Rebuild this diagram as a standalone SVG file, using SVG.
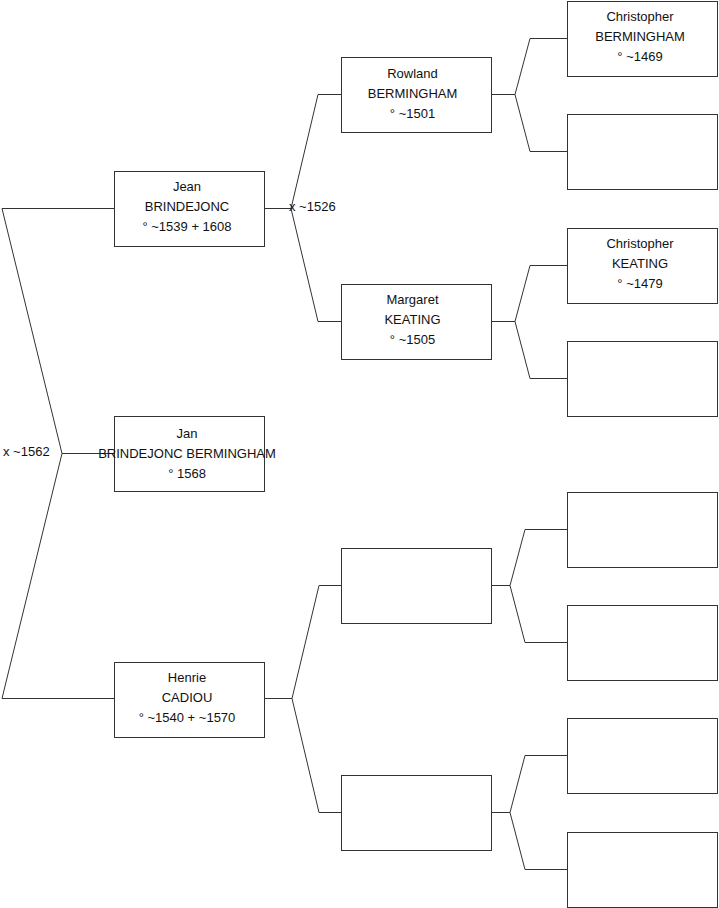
<svg xmlns="http://www.w3.org/2000/svg" width="719" height="908" viewBox="0 0 719 908">
<style>
.box{fill:#fff;stroke:#333;stroke-width:1}
.ln{fill:none;stroke:#333;stroke-width:1}
text{font-family:"Liberation Sans",Arial,sans-serif;font-size:13px;fill:#111}
.c{text-anchor:middle}
</style>
<rect width="719" height="908" fill="#fff"/>
<g id="connectors">
<path class="ln" d="M114,208.5 H2 L62,453.5 L2,698.5 H114 M62,453.5 H114"/>
<path class="ln" d="M265,208.5 H291 M341,94.5 H318 L291,208.5 L318,321.5 H341"/>
<path class="ln" d="M265,698.5 H292 M341,585.5 H319 L292,698.5 L319,812.5 H341"/>
<path class="ln" d="M491,94.5 H515 M567,38.5 H530 L515,94.5 L530,151.5 H567"/>
<path class="ln" d="M491,321.5 H515 M567,265.5 H530 L515,321.5 L530,378.5 H567"/>
<path class="ln" d="M491,585.5 H510 M567,529.5 H525 L510,585.5 L525,642.5 H567"/>
<path class="ln" d="M491,812.5 H510 M567,755.5 H525 L510,812.5 L525,869.5 H567"/>
<text x="289" y="211">x ~1526</text>
<text x="3" y="456">x ~1562</text>
</g>
<g id="jean"><rect class="box" x="114.5" y="171.5" width="150" height="75"/>
<text class="c" x="187" y="190.5">Jean</text><text class="c" x="187" y="210.5">BRINDEJONC</text><text class="c" x="187" y="230.5">° ~1539 + 1608</text></g>
<g id="jan"><rect class="box" x="114.5" y="416.5" width="150" height="75"/>
<text class="c" x="187" y="438">Jan</text><text class="c" x="187" y="458">BRINDEJONC BERMINGHAM</text><text class="c" x="187" y="478">° 1568</text></g>
<g id="henrie"><rect class="box" x="114.5" y="662.5" width="150" height="75"/>
<text class="c" x="187" y="682">Henrie</text><text class="c" x="187" y="702">CADIOU</text><text class="c" x="187" y="722">° ~1540 + ~1570</text></g>
<g id="rowland"><rect class="box" x="341.5" y="57.5" width="150" height="75"/>
<text class="c" x="412.5" y="78">Rowland</text><text class="c" x="412.5" y="98">BERMINGHAM</text><text class="c" x="412.5" y="118">° ~1501</text></g>
<g id="margaret"><rect class="box" x="341.5" y="284.5" width="150" height="75"/>
<text class="c" x="412.5" y="304">Margaret</text><text class="c" x="412.5" y="324">KEATING</text><text class="c" x="412.5" y="344">° ~1505</text></g>
<g id="p3"><rect class="box" x="341.5" y="548.5" width="150" height="75"/></g>
<g id="p4"><rect class="box" x="341.5" y="775.5" width="150" height="75"/></g>
<g id="christopher-b"><rect class="box" x="567.5" y="1.5" width="150" height="75"/>
<text class="c" x="640" y="21">Christopher</text><text class="c" x="640" y="41">BERMINGHAM</text><text class="c" x="640" y="61">° ~1469</text></g>
<g id="gp2"><rect class="box" x="567.5" y="114.5" width="150" height="75"/></g>
<g id="christopher-k"><rect class="box" x="567.5" y="228.5" width="150" height="75"/>
<text class="c" x="640" y="248">Christopher</text><text class="c" x="640" y="268">KEATING</text><text class="c" x="640" y="288">° ~1479</text></g>
<g id="gp4"><rect class="box" x="567.5" y="341.5" width="150" height="75"/></g>
<g id="gp5"><rect class="box" x="567.5" y="492.5" width="150" height="75"/></g>
<g id="gp6"><rect class="box" x="567.5" y="605.5" width="150" height="75"/></g>
<g id="gp7"><rect class="box" x="567.5" y="718.5" width="150" height="75"/></g>
<g id="gp8"><rect class="box" x="567.5" y="832.5" width="150" height="75"/></g>
</svg>
